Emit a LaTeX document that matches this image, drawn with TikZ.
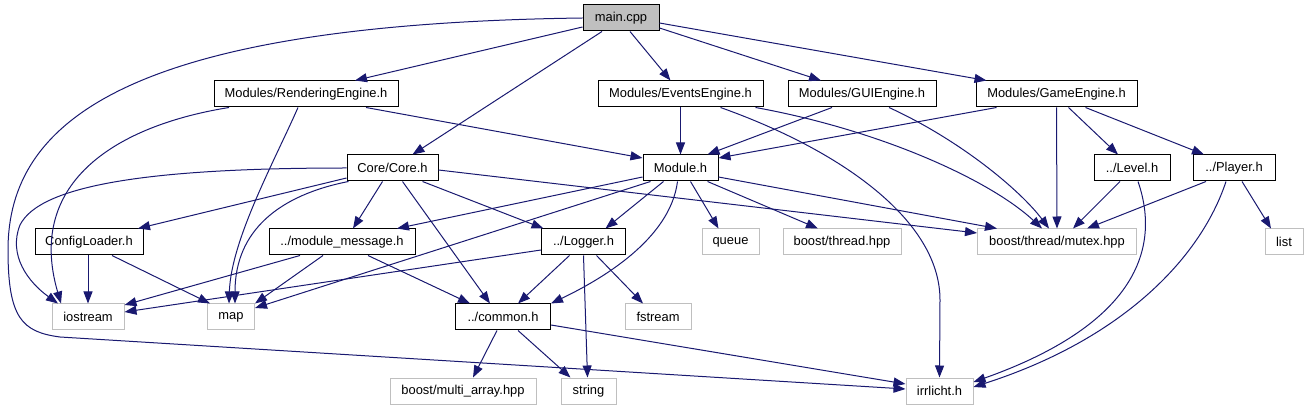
\documentclass[tikz,border=0pt]{standalone}
\usepackage{fontspec}
\setmainfont{Liberation Sans}
\usetikzlibrary{arrows.meta}
\definecolor{edgeblue}{RGB}{25,25,112}
\definecolor{sysgrey}{RGB}{191,191,191}
\definecolor{rootgrey}{RGB}{191,191,191}
\tikzset{
  hdr/.style={rectangle,draw=black,line width=1pt,fill=white,minimum height=26pt,inner sep=0pt,font=\fontsize{12.9}{14}\selectfont},
  sysh/.style={hdr,draw=sysgrey},
  rooth/.style={hdr,fill=rootgrey},
  inc/.style={draw=edgeblue,line width=1pt,-{Triangle[length=12pt,width=9pt]}}
}

\begin{document}
\begin{tikzpicture}[x=1pt,y=-1pt]
\useasboundingbox (0,0) rectangle (1306,411);
\node[rooth,minimum width=76] (main) at (621,18) {main.cpp};
\node[hdr,minimum width=184] (render) at (306,94) {Modules/RenderingEngine.h};
\node[hdr,minimum width=165] (events) at (680.5,94) {Modules/EventsEngine.h};
\node[hdr,minimum width=148] (gui) at (862,94) {Modules/GUIEngine.h};
\node[hdr,minimum width=161] (game) at (1056.5,94) {Modules/GameEngine.h};
\node[hdr,minimum width=91] (core) at (392.5,168) {Core/Core.h};
\node[hdr,minimum width=75] (module) at (680.5,168) {Module.h};
\node[hdr,minimum width=76] (level) at (1132,168) {../Level.h};
\node[hdr,minimum width=82] (player) at (1234,168) {../Player.h};
\node[hdr,minimum width=108] (config) at (89,242) {ConfigLoader.h};
\node[hdr,minimum width=146] (modmsg) at (342,242) {../module\_message.h};
\node[hdr,minimum width=84] (logger) at (583.5,242) {../Logger.h};
\node[sysh,minimum width=57] (queue) at (730.5,242) {queue};
\node[sysh,minimum width=118] (thread) at (842,242) {boost/thread.hpp};
\node[sysh,minimum width=159] (mutex) at (1057,242) {boost/thread/mutex.hpp};
\node[sysh,minimum width=38] (list) at (1284,242) {list};
\node[sysh,minimum width=72] (iostream) at (88,317) {iostream};
\node[sysh,minimum width=47] (map) at (231,317) {map};
\node[hdr,minimum width=95] (common) at (503,317) {../common.h};
\node[sysh,minimum width=66] (fstream) at (658,317) {fstream};
\node[sysh,minimum width=146] (multi) at (463,391) {boost/multi\_array.hpp};
\node[sysh,minimum width=55] (string) at (588.5,391) {string};
\node[sysh,minimum width=67] (irrlicht) at (939.5,391) {irrlicht.h};

% main.cpp
\draw[inc] ([yshift=-9]main.west) -- ([xshift=49]render.north);
\draw[inc] ([xshift=-19]main.south) -- ([xshift=20]core.north);
\draw[inc] ([xshift=9]main.south) -- ([xshift=-10]events.north);
\draw[inc] ([yshift=-10]main.east) -- ([xshift=-41]gui.north);
\draw[inc] ([yshift=-5]main.east) -- ([xshift=-70]game.north);
\draw[inc] (main.west) .. controls (130,24) and (8,120) .. (8,250) .. controls (8,318) and (22,332) .. (60,337) -- ([yshift=2]irrlicht.west);
% engines
\draw[inc] ([xshift=60]render.south) -- ([yshift=10]module.west);
\draw[inc] ([xshift=-8]render.south) .. controls (275,160) and (231,240) .. ([xshift=-2]map.north);
\draw[inc] ([xshift=-77]render.south) .. controls (120,125) and (25,180) .. ([xshift=-27]iostream.north);
\draw[inc] (events.south) -- (module.north);
\draw[inc] ([xshift=40]events.south) .. controls (840,150) and (940,220) .. (940,300) -- (irrlicht.north);
\draw[inc] ([xshift=75]events.south) .. controls (880,130) and (990,180) .. ([xshift=-15]mutex.north);
\draw[inc] ([xshift=-30]gui.south) -- ([xshift=27]module.north);
\draw[inc] ([xshift=27]gui.south) .. controls (960,140) and (1020,190) .. ([xshift=-8]mutex.north);
\draw[inc] ([xshift=-60]game.south) -- ([yshift=10]module.east);
\draw[inc] (game.south) -- (mutex.north);
\draw[inc] ([xshift=12]game.south) -- ([xshift=-14]level.north);
\draw[inc] ([xshift=29]game.south) -- ([xshift=-30]player.north);
% level, player
\draw[inc] ([xshift=-12]level.south) -- ([xshift=16]mutex.north);
\draw[inc] ([xshift=6]level.south) .. controls (1165,260) and (1120,330) .. ([yshift=9]irrlicht.east);
\draw[inc] ([xshift=-28]player.south) -- ([xshift=30]mutex.north);
\draw[inc] ([xshift=-8]player.south) .. controls (1200,260) and (1120,340) .. ([yshift=4]irrlicht.east);
\draw[inc] ([xshift=8]player.south) -- ([xshift=-13]list.north);
% core
\draw[inc] (core.west) .. controls (150,168) and (40,185) .. (20,225) .. controls (8,255) and (28,282) .. ([xshift=-30]iostream.north);
\draw[inc] ([yshift=-10]core.west) -- ([xshift=49]config.north);
\draw[inc] ([xshift=-44]core.south) .. controls (280,195) and (235,230) .. ([xshift=4]map.north);
\draw[inc] ([xshift=-10]core.south) -- ([xshift=11]modmsg.north);
\draw[inc] ([xshift=10]core.south) -- ([xshift=-13]common.north);
\draw[inc] ([xshift=30]core.south) -- ([xshift=-40]logger.north);
\draw[inc] ([yshift=-2]core.east) -- ([yshift=9]mutex.west);
% module
\draw[inc] ([yshift=-9]module.west) -- ([xshift=55]modmsg.north);
\draw[inc] ([xshift=-17]module.south) -- ([xshift=22]logger.north);
\draw[inc] ([xshift=-30]module.south) -- ([yshift=9]map.east);
\draw[inc] ([xshift=-3]module.south) .. controls (670,240) and (600,280) .. (common.north east);
\draw[inc] ([xshift=10]module.south) -- ([xshift=-12]queue.north);
\draw[inc] ([xshift=27]module.south) -- ([xshift=-24]thread.north);
\draw[inc] ([yshift=-9]module.east) -- ([xshift=-60]mutex.north);
% lower rows
\draw[inc] ([xshift=-1]config.south) -- (iostream.north);
\draw[inc] ([xshift=23]config.south) -- ([xshift=-21]map.north);
\draw[inc] ([xshift=-42]modmsg.south) -- ([yshift=12]iostream.east);
\draw[inc] ([xshift=-19]modmsg.south) -- (map.north east);
\draw[inc] ([xshift=26]modmsg.south) -- ([xshift=-33]common.north);
\draw[inc] ([yshift=-8]logger.west) -- ([yshift=5]iostream.east);
\draw[inc] ([xshift=-14]logger.south) -- ([xshift=15]common.north);
\draw[inc] (logger.south) -- ([xshift=-1]string.north);
\draw[inc] ([xshift=13]logger.south) -- ([xshift=-15]fstream.north);
\draw[inc] ([xshift=-6]common.south) -- ([xshift=10]multi.north);
\draw[inc] ([xshift=15]common.south) -- ([xshift=-18]string.north);
\draw[inc] ([yshift=-8]common.east) -- ([yshift=7]irrlicht.west);
\end{tikzpicture}
\end{document}
